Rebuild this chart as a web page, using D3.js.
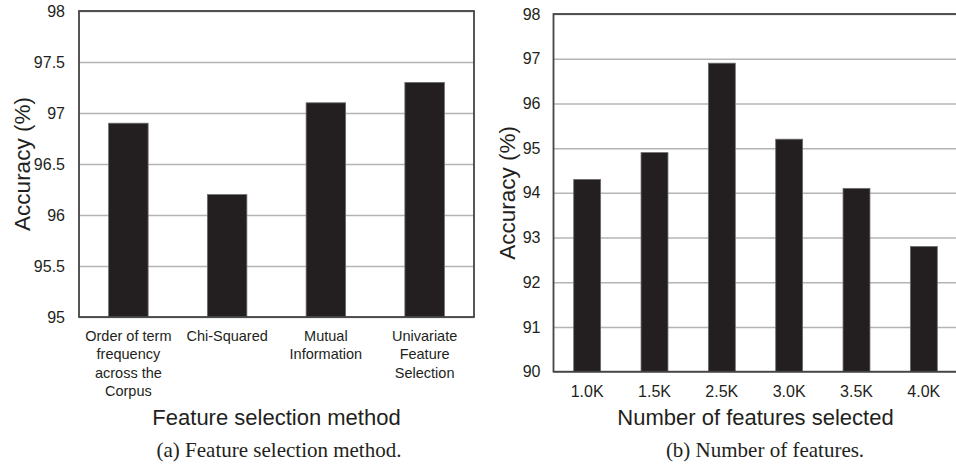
<!DOCTYPE html>
<html lang="en">
<head>
<meta charset="utf-8" />
<title>Accuracy charts</title>
<script src="https://cdn.jsdelivr.net/npm/d3@7"></script>
<style>
    body { margin: 0; background: #fff; }
    svg { display: block; }
    text { fill: #231f20; font-family: "Liberation Sans", Arial, sans-serif; }
    .caption { font-family: "Liberation Serif", "DejaVu Serif", serif; }
    .grid line { stroke: #b4b4b4; stroke-width: 1.5; }
    .grid path { display: none; }
    .frame { fill: none; stroke: #444; stroke-width: 1.8; }
    .bar { fill: #231f20; stroke: #6d6d6d; stroke-width: 0.8; }
</style>
</head>
<body>
<svg width="956" height="471"></svg>
<script>
    // (a) feature selection method
    var methodLines = [
        ["Order of term", "frequency", "across the", "Corpus"],
        ["Chi-Squared"],
        ["Mutual", "Information"],
        ["Univariate", "Feature", "Selection"]
    ];
    var methods = methodLines.map(function (l) { return l.join(" "); });
    var methodAccuracy = [96.9, 96.2, 97.1, 97.3];
    var methodTicks = [95, 95.5, 96, 96.5, 97, 97.5, 98];

    // (b) number of features
    var featureCounts = ["1.0K", "1.5K", "2.5K", "3.0K", "3.5K", "4.0K"];
    var featureAccuracy = [94.3, 94.9, 96.9, 95.2, 94.1, 92.8];
    var featureTicks = [90, 91, 92, 93, 94, 95, 96, 97, 98];

    var svg = d3.select("svg");

    function panel(opt) {
        var x = d3.scaleBand().domain(opt.cats).range([opt.left, opt.right])
            .paddingInner(0.6).paddingOuter(0.3);
        var y = d3.scaleLinear().domain([opt.ticks[0], opt.ticks[opt.ticks.length - 1]])
            .range([opt.bottom, opt.top]);
        var g = svg.append("g");

        g.append("g")
            .attr("class", "grid")
            .attr("transform", "translate(" + opt.left + ",0)")
            .call(d3.axisLeft(y).tickValues(opt.ticks).tickSize(-(opt.right - opt.left)).tickFormat(""));

        g.selectAll(".bar")
            .data(opt.values)
            .enter().append("rect")
            .attr("class", "bar")
            .attr("x", function (d, i) { return x(opt.cats[i]); })
            .attr("y", function (d) { return y(d); })
            .attr("width", x.bandwidth())
            .attr("height", function (d) { return y(opt.ticks[0]) - y(d); });

        g.append("rect")
            .attr("class", "frame")
            .attr("x", opt.left).attr("y", opt.top)
            .attr("width", opt.right - opt.left).attr("height", opt.bottom - opt.top);

        var ya = g.append("g")
            .attr("transform", "translate(" + opt.left + ",0)")
            .call(d3.axisLeft(y).tickValues(opt.ticks).tickSize(0).tickPadding(opt.tickPad)
                .tickFormat(function (d) { return String(d); }));
        ya.select(".domain").remove();
        ya.selectAll("text").style("font-size", "16px").attr("fill", "#231f20");

        // category labels, possibly multi-line
        var lab = g.append("g").selectAll("text")
            .data(opt.cats)
            .enter().append("text")
            .attr("text-anchor", "middle")
            .style("font-size", opt.catSize)
            .attr("y", opt.catY);
        lab.each(function (d, i) {
            var lines = opt.lines ? opt.lines[i] : [d];
            var t = d3.select(this);
            lines.forEach(function (s, k) {
                t.append("tspan")
                    .attr("x", x(d) + x.bandwidth() / 2)
                    .attr("dy", k === 0 ? 0 : 18.4)
                    .text(s);
            });
        });

        g.append("text")
            .attr("text-anchor", "middle")
            .attr("transform", "translate(" + opt.yTitleX + "," + (opt.top + opt.bottom) / 2 + ") rotate(-90)")
            .style("font-size", "22.5px")
            .text("Accuracy (%)");

        g.append("text")
            .attr("text-anchor", "middle")
            .attr("x", (opt.left + opt.right) / 2)
            .attr("y", 425)
            .style("font-size", "22px")
            .text(opt.xTitle);

        g.append("text")
            .attr("class", "caption")
            .attr("text-anchor", "middle")
            .attr("x", opt.capX)
            .attr("y", 457)
            .style("font-size", "21px")
            .text(opt.caption);
    }

    panel({
        cats: methods, lines: methodLines, values: methodAccuracy, ticks: methodTicks,
        left: 79, right: 474, top: 11, bottom: 317, tickPad: 14,
        catY: 341, catSize: "14.5px", yTitleX: 30,
        xTitle: "Feature selection method", caption: "(a)  Feature selection method.", capX: 279
    });

    panel({
        cats: featureCounts, values: featureAccuracy, ticks: featureTicks,
        left: 553.5, right: 957.5, top: 14, bottom: 371.7, tickPad: 13,
        catY: 397, catSize: "16px", yTitleX: 515,
        xTitle: "Number of features selected", caption: "(b)  Number of features.", capX: 765
    });
</script>
</body>
</html>
